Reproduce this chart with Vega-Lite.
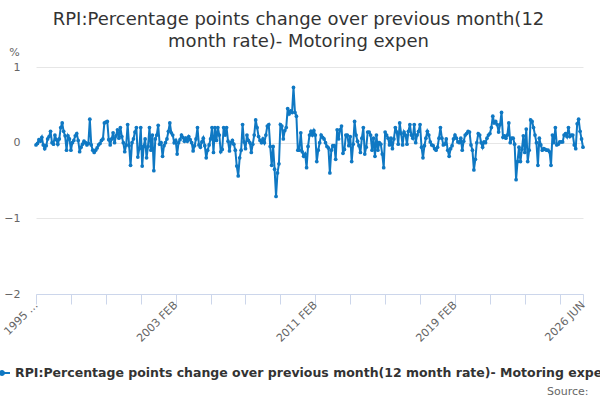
{
"$schema":"https://vega.github.io/schema/vega-lite/v6.json",
"width":547,"height":227,
"autosize":"none",
"padding":{"left":36,"top":67,"right":17,"bottom":106},
"background":"white",
"config":{"view":{"stroke":null},"font":"DejaVu Sans"},
"title":{"text":["RPI:Percentage points change over previous month(12","month rate)- Motoring expen"],"font":"DejaVu Sans","fontSize":18,"fontWeight":"normal","color":"#333333","anchor":"middle","frame":"group","dx":-11,"lineHeight":22,"offset":-5},
"data":{"values":[
{"m":"1995-02","v":-0.03},{"m":"1995-03","v":-0.01},{"m":"1995-04","v":0.04},{"m":"1995-05","v":0.02},{"m":"1995-06","v":0.07},{"m":"1995-07","v":-0.03},{"m":"1995-08","v":-0.08},{"m":"1995-09","v":-0.04},{"m":"1995-10","v":0.05},{"m":"1995-11","v":0.08},{"m":"1995-12","v":0.15},
{"m":"1996-01","v":0.0},{"m":"1996-02","v":-0.02},{"m":"1996-03","v":0.1},{"m":"1996-04","v":0.04},{"m":"1996-05","v":-0.02},{"m":"1996-06","v":0.05},{"m":"1996-07","v":0.2},{"m":"1996-08","v":0.26},{"m":"1996-09","v":0.15},{"m":"1996-10","v":0.09},{"m":"1996-11","v":-0.1},{"m":"1996-12","v":0.09},
{"m":"1997-01","v":0.05},{"m":"1997-02","v":-0.1},{"m":"1997-03","v":0.0},{"m":"1997-04","v":0.03},{"m":"1997-05","v":0.09},{"m":"1997-06","v":0.12},{"m":"1997-07","v":0.03},{"m":"1997-08","v":-0.12},{"m":"1997-09","v":-0.06},{"m":"1997-10","v":-0.02},{"m":"1997-11","v":0.02},{"m":"1997-12","v":0.0},
{"m":"1998-01","v":-0.03},{"m":"1998-02","v":-0.01},{"m":"1998-03","v":0.31},{"m":"1998-04","v":-0.03},{"m":"1998-05","v":-0.1},{"m":"1998-06","v":-0.13},{"m":"1998-07","v":-0.1},{"m":"1998-08","v":-0.07},{"m":"1998-09","v":-0.03},{"m":"1998-10","v":-0.01},{"m":"1998-11","v":0.03},{"m":"1998-12","v":0.05},
{"m":"1999-01","v":0.26},{"m":"1999-02","v":0.27},{"m":"1999-03","v":0.28},{"m":"1999-04","v":0.04},{"m":"1999-05","v":-0.03},{"m":"1999-06","v":0.05},{"m":"1999-07","v":0.13},{"m":"1999-08","v":0.0},{"m":"1999-09","v":0.09},{"m":"1999-10","v":0.17},{"m":"1999-11","v":0.06},{"m":"1999-12","v":0.2},
{"m":"2000-01","v":0.08},{"m":"2000-02","v":0.0},{"m":"2000-03","v":-0.12},{"m":"2000-04","v":-0.03},{"m":"2000-05","v":0.24},{"m":"2000-06","v":-0.04},{"m":"2000-07","v":-0.3},{"m":"2000-08","v":0.0},{"m":"2000-09","v":0.05},{"m":"2000-10","v":0.14},{"m":"2000-11","v":0.2},{"m":"2000-12","v":-0.19},
{"m":"2001-01","v":-0.08},{"m":"2001-02","v":0.2},{"m":"2001-03","v":-0.31},{"m":"2001-04","v":-0.05},{"m":"2001-05","v":0.05},{"m":"2001-06","v":-0.2},{"m":"2001-07","v":-0.05},{"m":"2001-08","v":0.2},{"m":"2001-09","v":-0.1},{"m":"2001-10","v":0.1},{"m":"2001-11","v":-0.37},{"m":"2001-12","v":0.05},
{"m":"2002-01","v":0.1},{"m":"2002-02","v":0.23},{"m":"2002-03","v":-0.02},{"m":"2002-04","v":0.0},{"m":"2002-05","v":-0.18},{"m":"2002-06","v":-0.04},{"m":"2002-07","v":0.0},{"m":"2002-08","v":0.05},{"m":"2002-09","v":0.15},{"m":"2002-10","v":0.26},{"m":"2002-11","v":0.13},{"m":"2002-12","v":0.1},
{"m":"2003-01","v":0.0},{"m":"2003-02","v":0.03},{"m":"2003-03","v":-0.15},{"m":"2003-04","v":0.0},{"m":"2003-05","v":0.04},{"m":"2003-06","v":0.1},{"m":"2003-07","v":0.07},{"m":"2003-08","v":0.02},{"m":"2003-09","v":0.06},{"m":"2003-10","v":0.02},{"m":"2003-11","v":0.08},{"m":"2003-12","v":0.04},
{"m":"2004-01","v":0.0},{"m":"2004-02","v":-0.11},{"m":"2004-03","v":-0.04},{"m":"2004-04","v":0.05},{"m":"2004-05","v":0.2},{"m":"2004-06","v":-0.03},{"m":"2004-07","v":-0.06},{"m":"2004-08","v":0.01},{"m":"2004-09","v":0.06},{"m":"2004-10","v":-0.04},{"m":"2004-11","v":-0.2},{"m":"2004-12","v":-0.1},
{"m":"2005-01","v":-0.03},{"m":"2005-02","v":0.05},{"m":"2005-03","v":0.2},{"m":"2005-04","v":-0.13},{"m":"2005-05","v":0.2},{"m":"2005-06","v":0.03},{"m":"2005-07","v":0.2},{"m":"2005-08","v":0.1},{"m":"2005-09","v":-0.12},{"m":"2005-10","v":-0.09},{"m":"2005-11","v":0.2},{"m":"2005-12","v":0.1},
{"m":"2006-01","v":0.2},{"m":"2006-02","v":0.02},{"m":"2006-03","v":-0.11},{"m":"2006-04","v":0.0},{"m":"2006-05","v":0.03},{"m":"2006-06","v":-0.02},{"m":"2006-07","v":-0.1},{"m":"2006-08","v":-0.31},{"m":"2006-09","v":-0.44},{"m":"2006-10","v":-0.2},{"m":"2006-11","v":-0.1},{"m":"2006-12","v":0.24},
{"m":"2007-01","v":0.01},{"m":"2007-02","v":-0.08},{"m":"2007-03","v":0.1},{"m":"2007-04","v":0.03},{"m":"2007-05","v":0.0},{"m":"2007-06","v":-0.13},{"m":"2007-07","v":-0.02},{"m":"2007-08","v":0.1},{"m":"2007-09","v":0.3},{"m":"2007-10","v":0.2},{"m":"2007-11","v":0.08},{"m":"2007-12","v":0.03},
{"m":"2008-01","v":0.0},{"m":"2008-02","v":0.05},{"m":"2008-03","v":0.0},{"m":"2008-04","v":0.1},{"m":"2008-05","v":0.22},{"m":"2008-06","v":0.24},{"m":"2008-07","v":-0.05},{"m":"2008-08","v":-0.3},{"m":"2008-09","v":-0.05},{"m":"2008-10","v":-0.35},{"m":"2008-11","v":-0.71},{"m":"2008-12","v":-0.4},
{"m":"2009-01","v":-0.28},{"m":"2009-02","v":0.24},{"m":"2009-03","v":0.22},{"m":"2009-04","v":0.05},{"m":"2009-05","v":0.16},{"m":"2009-06","v":0.2},{"m":"2009-07","v":0.45},{"m":"2009-08","v":0.38},{"m":"2009-09","v":0.42},{"m":"2009-10","v":0.4},{"m":"2009-11","v":0.73},{"m":"2009-12","v":0.4},
{"m":"2010-01","v":0.35},{"m":"2010-02","v":-0.1},{"m":"2010-03","v":-0.1},{"m":"2010-04","v":0.13},{"m":"2010-05","v":-0.12},{"m":"2010-06","v":-0.18},{"m":"2010-07","v":-0.15},{"m":"2010-08","v":-0.33},{"m":"2010-09","v":-0.05},{"m":"2010-10","v":0.1},{"m":"2010-11","v":0.15},{"m":"2010-12","v":0.1},
{"m":"2011-01","v":0.16},{"m":"2011-02","v":0.1},{"m":"2011-03","v":-0.25},{"m":"2011-04","v":-0.1},{"m":"2011-05","v":0.0},{"m":"2011-06","v":0.1},{"m":"2011-07","v":0.07},{"m":"2011-08","v":0.05},{"m":"2011-09","v":0.0},{"m":"2011-10","v":-0.05},{"m":"2011-11","v":-0.07},{"m":"2011-12","v":-0.4},
{"m":"2012-01","v":-0.1},{"m":"2012-02","v":-0.04},{"m":"2012-03","v":-0.04},{"m":"2012-04","v":-0.22},{"m":"2012-05","v":0.17},{"m":"2012-06","v":0.05},{"m":"2012-07","v":0.17},{"m":"2012-08","v":0.22},{"m":"2012-09","v":-0.14},{"m":"2012-10","v":-0.09},{"m":"2012-11","v":0.1},{"m":"2012-12","v":0.1},
{"m":"2013-01","v":-0.04},{"m":"2013-02","v":0.08},{"m":"2013-03","v":-0.25},{"m":"2013-04","v":-0.02},{"m":"2013-05","v":0.28},{"m":"2013-06","v":0.1},{"m":"2013-07","v":0.02},{"m":"2013-08","v":-0.04},{"m":"2013-09","v":-0.13},{"m":"2013-10","v":0.06},{"m":"2013-11","v":0.2},{"m":"2013-12","v":-0.15},
{"m":"2014-01","v":-0.06},{"m":"2014-02","v":0.14},{"m":"2014-03","v":0.14},{"m":"2014-04","v":0.1},{"m":"2014-05","v":-0.1},{"m":"2014-06","v":0.06},{"m":"2014-07","v":-0.18},{"m":"2014-08","v":0.1},{"m":"2014-09","v":-0.1},{"m":"2014-10","v":0.0},{"m":"2014-11","v":-0.02},{"m":"2014-12","v":-0.15},
{"m":"2015-01","v":-0.33},{"m":"2015-02","v":0.14},{"m":"2015-03","v":0.1},{"m":"2015-04","v":0.06},{"m":"2015-05","v":-0.03},{"m":"2015-06","v":0.06},{"m":"2015-07","v":-0.08},{"m":"2015-08","v":0.05},{"m":"2015-09","v":0.2},{"m":"2015-10","v":0.14},{"m":"2015-11","v":-0.02},{"m":"2015-12","v":0.26},
{"m":"2016-01","v":0.12},{"m":"2016-02","v":-0.03},{"m":"2016-03","v":0.14},{"m":"2016-04","v":0.1},{"m":"2016-05","v":-0.02},{"m":"2016-06","v":0.15},{"m":"2016-07","v":0.24},{"m":"2016-08","v":0.1},{"m":"2016-09","v":0.06},{"m":"2016-10","v":0.24},{"m":"2016-11","v":0.0},{"m":"2016-12","v":0.1},
{"m":"2017-01","v":0.15},{"m":"2017-02","v":0.24},{"m":"2017-03","v":-0.06},{"m":"2017-04","v":-0.2},{"m":"2017-05","v":-0.04},{"m":"2017-06","v":0.06},{"m":"2017-07","v":0.15},{"m":"2017-08","v":0.1},{"m":"2017-09","v":0.01},{"m":"2017-10","v":-0.03},{"m":"2017-11","v":-0.04},{"m":"2017-12","v":-0.08},
{"m":"2018-01","v":-0.1},{"m":"2018-02","v":-0.06},{"m":"2018-03","v":0.06},{"m":"2018-04","v":0.2},{"m":"2018-05","v":0.06},{"m":"2018-06","v":-0.03},{"m":"2018-07","v":-0.02},{"m":"2018-08","v":0.05},{"m":"2018-09","v":-0.1},{"m":"2018-10","v":-0.18},{"m":"2018-11","v":-0.08},{"m":"2018-12","v":-0.04},
{"m":"2019-01","v":0.05},{"m":"2019-02","v":0.1},{"m":"2019-03","v":0.06},{"m":"2019-04","v":0.01},{"m":"2019-05","v":0.0},{"m":"2019-06","v":0.06},{"m":"2019-07","v":-0.1},{"m":"2019-08","v":0.02},{"m":"2019-09","v":0.1},{"m":"2019-10","v":0.12},{"m":"2019-11","v":0.15},{"m":"2019-12","v":0.14},
{"m":"2020-01","v":-0.03},{"m":"2020-02","v":-0.1},{"m":"2020-03","v":-0.36},{"m":"2020-04","v":-0.22},{"m":"2020-05","v":0.0},{"m":"2020-06","v":0.12},{"m":"2020-07","v":0.1},{"m":"2020-08","v":0.0},{"m":"2020-09","v":-0.06},{"m":"2020-10","v":0.01},{"m":"2020-11","v":0.0},{"m":"2020-12","v":0.06},
{"m":"2021-01","v":0.1},{"m":"2021-02","v":0.12},{"m":"2021-03","v":0.2},{"m":"2021-04","v":0.35},{"m":"2021-05","v":0.26},{"m":"2021-06","v":0.28},{"m":"2021-07","v":0.24},{"m":"2021-08","v":0.14},{"m":"2021-09","v":0.24},{"m":"2021-10","v":0.4},{"m":"2021-11","v":0.07},{"m":"2021-12","v":0.09},
{"m":"2022-01","v":0.06},{"m":"2022-02","v":0.1},{"m":"2022-03","v":0.26},{"m":"2022-04","v":0.0},{"m":"2022-05","v":0.06},{"m":"2022-06","v":0.06},{"m":"2022-07","v":-0.02},{"m":"2022-08","v":-0.49},{"m":"2022-09","v":-0.25},{"m":"2022-10","v":-0.06},{"m":"2022-11","v":-0.25},{"m":"2022-12","v":-0.09},
{"m":"2023-01","v":0.09},{"m":"2023-02","v":-0.13},{"m":"2023-03","v":0.18},{"m":"2023-04","v":-0.25},{"m":"2023-05","v":-0.1},{"m":"2023-06","v":0.3},{"m":"2023-07","v":0.28},{"m":"2023-08","v":0.2},{"m":"2023-09","v":0.1},{"m":"2023-10","v":0.0},{"m":"2023-11","v":-0.3},{"m":"2023-12","v":0.06},
{"m":"2024-01","v":-0.03},{"m":"2024-02","v":-0.1},{"m":"2024-03","v":-0.08},{"m":"2024-04","v":-0.09},{"m":"2024-05","v":-0.1},{"m":"2024-06","v":-0.1},{"m":"2024-07","v":-0.12},{"m":"2024-08","v":-0.3},{"m":"2024-09","v":0.1},{"m":"2024-10","v":0.0},{"m":"2024-11","v":0.2},{"m":"2024-12","v":-0.03},
{"m":"2025-01","v":-0.02},{"m":"2025-02","v":0.01},{"m":"2025-03","v":0.01},{"m":"2025-04","v":0.01},{"m":"2025-05","v":0.1},{"m":"2025-06","v":0.12},{"m":"2025-07","v":0.08},{"m":"2025-08","v":0.2},{"m":"2025-09","v":0.08},{"m":"2025-10","v":0.1},{"m":"2025-11","v":0.1},{"m":"2025-12","v":-0.03},
{"m":"2026-01","v":-0.08},{"m":"2026-02","v":0.25},{"m":"2026-03","v":0.31},{"m":"2026-04","v":0.15},{"m":"2026-05","v":0.05},{"m":"2026-06","v":-0.06}
]},
"mark":{"type":"line","strokeWidth":2,"point":{"filled":true,"size":14}},
"encoding":{
"x":{"field":"m","type":"ordinal","sort":null,"scale":{"type":"point","padding":0},
"axis":{"values":["1995-02","1997-02","1999-02","2001-02","2003-02","2005-02","2007-02","2009-02","2011-02","2013-02","2015-02","2017-02","2019-02","2021-02","2023-02","2025-02","2026-06"],
"labelExpr":"datum.value == '1995-02' ? '1995 …' : datum.value == '2003-02' ? '2003 FEB' : datum.value == '2011-02' ? '2011 FEB' : datum.value == '2019-02' ? '2019 FEB' : datum.value == '2026-06' ? '2026 JUN' : ''",
"labelAngle":-45,"labelAlign":"right","labelBaseline":"middle","labelPadding":-1,"labelFontSize":11,"labelColor":"#666666","labelFont":"DejaVu Sans","labelOverlap":false,"labelBound":false,"labelFlush":false,
"tickSize":10,"tickColor":"#ccd6eb","domainColor":"#ccd6eb","grid":false,
"title":"Source:","titleFont":"DejaVu Sans","titleFontSize":11,"titleFontWeight":"normal","titleColor":"#666666","titleAlign":"right","titleBaseline":"middle","titleAnchor":null,"titleX":552,"titleY":97}},
"y":{"field":"v","type":"quantitative","scale":{"domain":[-2,1],"nice":false,"zero":false},
"axis":{"values":[-2,-1,0,1],"format":"d","domain":false,"ticks":false,"labelPadding":16,"labelFontSize":11,"labelColor":"#666666","labelFont":"DejaVu Sans","gridColor":"#e6e6e6",
"title":"%","titleAngle":0,"titleX":-22,"titleY":-15,"titleAlign":"center","titleBaseline":"middle","titleFont":"DejaVu Sans","titleFontSize":11,"titleFontWeight":"normal","titleColor":"#666666"}},
"color":{"datum":"RPI:Percentage points change over previous month(12 month rate)- Motoring expenditure","scale":{"range":["#0f78c3"]},
"legend":{"orient":"none","legendX":-42,"legendY":298,"title":null,"padding":0,"labelLimit":0,"labelFontSize":12.5,"labelFontWeight":"bold","labelColor":"#333333","labelFont":"DejaVu Sans","labelOffset":5,
"symbolType":"M-1,-0.125H1V0.125H-1Z M0.375,0A0.375,0.375,0,1,1,-0.375,0A0.375,0.375,0,1,1,0.375,0Z","symbolSize":256,"symbolFillColor":"#0f78c3","symbolStrokeWidth":0}}
}
}
